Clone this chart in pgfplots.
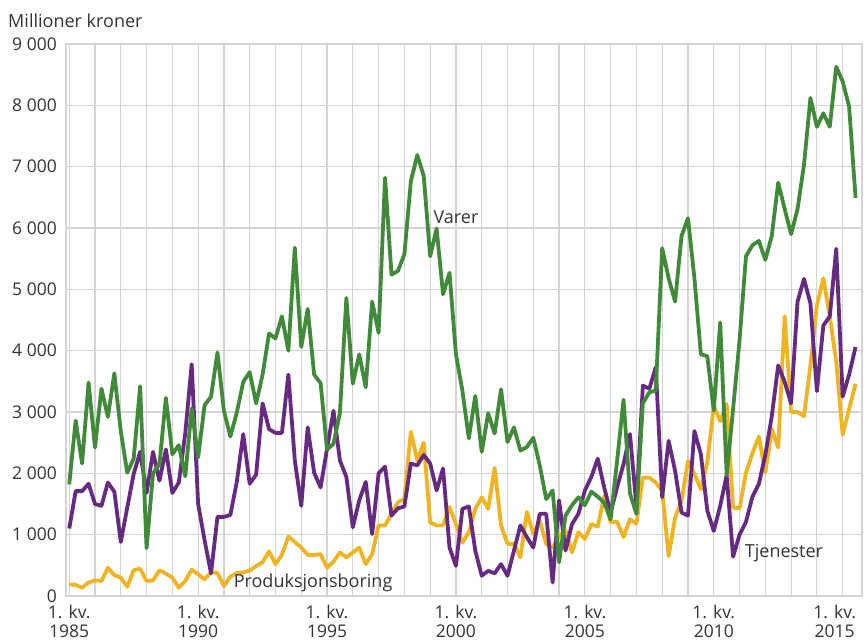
\documentclass[border=0pt]{standalone}
\usepackage{fontspec}
\setmainfont{Open Sans}
\usepackage{pgfplots}
\pgfplotsset{compat=1.18}
\usepackage{pgfplotstable}
\definecolor{cgreen}{RGB}{64,138,58}
\definecolor{cpurple}{RGB}{103,42,131}
\definecolor{cyellow}{RGB}{240,180,35}
\definecolor{cgrid}{RGB}{212,212,212}
\definecolor{ctext}{RGB}{51,51,51}

% q = quarter index (0 = 1. kv. 1985); v = Varer, t = Tjenester, p = Produksjonsboring
\pgfplotstableread{
q v t p
0 1820 1100 190
1 2860 1710 180
2 2160 1710 135
3 3480 1830 220
4 2420 1500 255
5 3380 1470 245
6 2920 1850 460
7 3630 1700 340
8 2690 880 300
9 2010 1440 150
10 2240 1990 420
11 3420 2350 445
12 780 1680 245
13 2000 2350 255
14 2150 1880 420
15 3230 2390 365
16 2310 1680 300
17 2460 1850 135
18 1950 2650 245
19 3060 3780 430
20 2260 1500 355
21 3110 910 270
22 3250 370 390
23 3970 1290 375
24 3020 1290 165
25 2600 1320 315
26 2990 1860 375
27 3490 2640 385
28 3650 1830 415
29 3140 1980 490
30 3610 3140 550
31 4280 2720 730
32 4200 2660 520
33 4560 2660 670
34 4000 3610 970
35 5680 2210 880
36 4060 1470 790
37 4680 2750 670
38 3610 2010 670
39 3470 1770 680
40 2390 2400 460
41 2480 3020 560
42 2990 2210 710
43 4860 1940 630
44 3460 1120 710
45 3940 1560 790
46 3400 1860 520
47 4800 1010 680
48 4290 2000 1150
49 6820 2110 1150
50 5240 1310 1340
51 5300 1430 1530
52 5570 1460 1580
53 6760 2160 2680
54 7190 2130 2210
55 6850 2300 2500
56 5540 2160 1200
57 5990 1720 1150
58 4920 2080 1150
59 5270 790 1450
60 3940 490 1170
61 3350 1420 870
62 2570 1460 1040
63 3260 740 1420
64 2350 330 1610
65 2980 410 1420
66 2650 370 2090
67 3370 520 1150
68 2510 330 850
69 2750 740 850
70 2370 1150 630
71 2430 960 1370
72 2580 790 1010
73 2130 1340 1230
74 1580 1340 850
75 1720 220 790
76 550 1560 980
77 1310 740 1070
78 1480 1170 710
79 1610 1340 1040
80 1480 1720 930
81 1700 1940 1170
82 1620 2240 1130
83 1520 1770 1630
84 1250 1360 1200
85 2200 1770 1210
86 3200 2150 960
87 1670 2640 1250
88 1340 1470 1180
89 3140 3430 1930
90 3320 3380 1930
91 3350 3730 1850
92 5670 1610 1710
93 5180 2530 650
94 4800 2040 1280
95 5870 1360 1550
96 6160 1310 2200
97 5180 2690 1990
98 3940 2310 1740
99 3910 1390 2180
100 3020 1060 3100
101 4460 1470 2850
102 1970 1970 3130
103 3050 640 1440
104 4170 1000 1430
105 5540 1210 2010
106 5720 1620 2330
107 5790 1830 2600
108 5480 2300 2010
109 5870 2930 2720
110 6740 3760 2420
111 6310 3490 4560
112 5900 3140 3000
113 6310 4800 3000
114 7030 5170 2930
115 8120 4770 3760
116 7650 3340 4740
117 7870 4410 5180
118 7650 4560 4560
119 8630 5660 3820
120 8390 3250 2630
121 7980 3610 3050
122 6490 4060 3460
}\data

\begin{document}
\begin{tikzpicture}
\useasboundingbox (-66bp,-45bp) rectangle (800bp,596bp);
\begin{axis}[
  at={(0,0)}, anchor=south west,
  width=796bp, height=552bp, scale only axis,
  xmin=-0.5, xmax=123, ymin=0, ymax=9000,
  xtick={0,4,...,116},
  xticklabels={{1. kv.\\1985},,,,,{1. kv.\\1990},,,,,{1. kv.\\1995},,,,,{1. kv.\\2000},,,,,{1. kv.\\2005},,,,,{1. kv.\\2010},,,,},
  extra x ticks={120},
  extra x tick labels={{1. kv.\\2015}},
  extra x tick style={xticklabel style={xshift=-8bp}},
  ytick={0,1000,...,9000},
  xmajorgrids, ymajorgrids,
  major grid style={draw=cgrid, line width=1.2bp},
  axis line style={draw=cgrid, line width=1.4bp},
  major tick length=0pt, minor tick length=0pt,
  tick style={draw=none},
  xticklabel style={align=center, font=\fontsize{17.5bp}{19.5bp}\selectfont, text=ctext, inner sep=1bp, yshift=-8bp},
  yticklabel style={font=\fontsize{17.5bp}{19bp}\selectfont, text=ctext, inner sep=0pt, xshift=-9bp},
  /pgf/number format/assume math mode=true,
  /pgf/number format/1000 sep={\ },
  clip=false,
]
\addplot[cyellow, line width=3.8bp, line join=round] table[x=q, y=p] {\data};
\addplot[cpurple, line width=3.8bp, line join=round] table[x=q, y=t] {\data};
\addplot[cgreen, line width=3.8bp, line join=round] table[x=q, y=v] {\data};
\node[anchor=west, text=ctext, font=\fontsize{18bp}{20bp}\selectfont, inner sep=0pt] at (axis cs:56.5,6170) {Varer};
\node[anchor=base west, text=ctext, font=\fontsize{18bp}{20bp}\selectfont, inner sep=0pt] at (axis cs:25.5,140) {Produksjonsboring};
\node[anchor=base west, text=ctext, font=\fontsize{18bp}{20bp}\selectfont, inner sep=0pt] at (axis cs:104.8,630) {Tjenester};
\node[anchor=base west, text=ctext, font=\fontsize{18bp}{20bp}\selectfont, inner sep=0pt] at ([xshift=-58bp,yshift=16bp]rel axis cs:0,1) {Millioner kroner};
\end{axis}
\end{tikzpicture}
\end{document}
